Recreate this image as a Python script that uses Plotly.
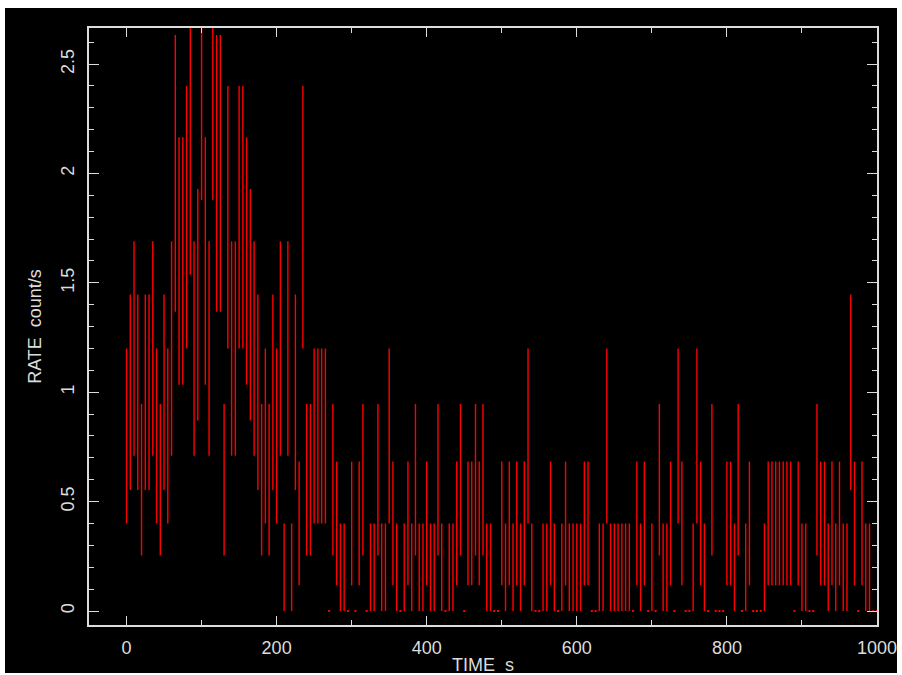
import numpy as np
import plotly.graph_objects as go

# ---- data (counts per 5 s bin) ----
BIN_WIDTH = 5.0  # s
COUNTS_0_125 = [4, 5, 6, 5, 3, 5, 5, 6, 4, 3, 5, 4, 6, 10, 8, 8, 9, 11, 6, 7, 13, 8, 6, 13, 10, 10]
COUNTS_130_255 = [3, 9, 6, 6, 9, 9, 8, 7, 6, 5, 3, 4, 3, 5, 4, 6, 1, 6, 1, 5, 2, 9, 3, 3, 4, 4]
COUNTS_260_655 = [4, 4, 0, 3, 2, 1, 1, 0, 2, 0, 2, 3, 0, 1, 1, 3, 1, 1, 4, 2,
                  1, 0, 1, 2, 1, 3, 1, 1, 2, 1, 1, 3, 1, 0, 1, 1, 2, 3, 0, 2,
                  2, 3, 2, 3, 1, 1, 0, 0, 2, 1, 2, 1, 2, 1, 2, 4, 1, 0, 0, 1,
                  1, 2, 1, 0, 1, 2, 1, 1, 1, 1, 2, 2, 0, 0, 1, 1, 4, 1, 1, 1]
COUNTS_660_1000 = [1, 1, 1, 0, 2, 1, 2, 0, 1, 0, 3, 1, 1, 2, 0, 4, 2, 0, 0, 1,
                   4, 2, 1, 0, 3, 0, 0, 0, 2, 2, 1, 3, 0, 1, 2, 0, 0, 0, 1, 2,
                   2, 2, 2, 2, 2, 2, 0, 2, 1, 1, 0, 0, 3, 2, 2, 1, 2, 1, 2, 1,
                   1, 5, 2, 0, 2, 1, 1, 0, 0]

X_TICKS = [0, 200, 400, 600, 800, 1000]
Y_TICKS = [0, 0.5, 1, 1.5, 2, 2.5]
Y_TICK_LABELS = ["0", "0.5", "1", "1.5", "2", "2.5"]
X_TITLE = "TIME\u00a0\u00a0s"
Y_TITLE = "RATE\u00a0\u00a0count/s"

counts = np.array(COUNTS_0_125 + COUNTS_130_255 + COUNTS_260_655 + COUNTS_660_1000, dtype=float)
time = np.arange(len(counts)) * BIN_WIDTH
rate = counts / BIN_WIDTH
rate_err = np.sqrt(counts) / BIN_WIDTH

nz = counts > 0
RED = "#ff0000"
FG = "#dcdcdc"
FONT = dict(family="Liberation Sans, Arial, sans-serif", size=18, color=FG)

fig = go.Figure()
fig.add_trace(go.Scatter(
    x=time[nz], y=rate[nz], mode="markers",
    marker=dict(size=1, color="rgba(0,0,0,0)"),
    error_y=dict(type="data", array=rate_err[nz], visible=True,
                 color=RED, thickness=1.4, width=0),
    hoverinfo="x+y", showlegend=False,
))
fig.add_trace(go.Scatter(
    x=time[~nz], y=rate[~nz], mode="markers",
    marker=dict(symbol="square", size=2, color=RED, line=dict(width=0)),
    showlegend=False,
))

axis_common = dict(
    showgrid=False, zeroline=False, showline=True, linecolor=FG, linewidth=1.5,
    mirror="allticks", ticks="inside", tickcolor=FG, tickwidth=1.3,
    tickfont=FONT, automargin=False,
)
fig.update_xaxes(
    range=[-50, 1000], tickvals=X_TICKS, ticklen=9,
    minor=dict(dtick=100, tick0=0, ticks="inside", ticklen=5, tickcolor=FG, tickwidth=1.3),
    ticklabelstandoff=6,
    title=dict(text=X_TITLE, font=FONT, standoff=7),
    **axis_common,
)
fig.update_yaxes(
    range=[-0.064, 2.665], tickvals=Y_TICKS, ticktext=Y_TICK_LABELS, ticklen=10,
    tickangle=-90,
    minor=dict(dtick=0.1, tick0=0, ticks="inside", ticklen=5, tickcolor=FG, tickwidth=1.3),
    ticklabelstandoff=6,
    title=dict(text=Y_TITLE, font=FONT, standoff=12),
    **axis_common,
)

fig.update_layout(
    width=902, height=675,
    margin=dict(l=89, r=25, t=28, b=50, pad=0, autoexpand=False),
    paper_bgcolor="white", plot_bgcolor="black",
    shapes=[dict(type="rect", xref="paper", yref="paper", layer="below",
                 x0=-84 / 788, x1=1 + 20 / 788, y0=-48 / 597, y1=1 + 20 / 597,
                 fillcolor="black", line=dict(width=0))],
)

fig.write_html("out.html")
